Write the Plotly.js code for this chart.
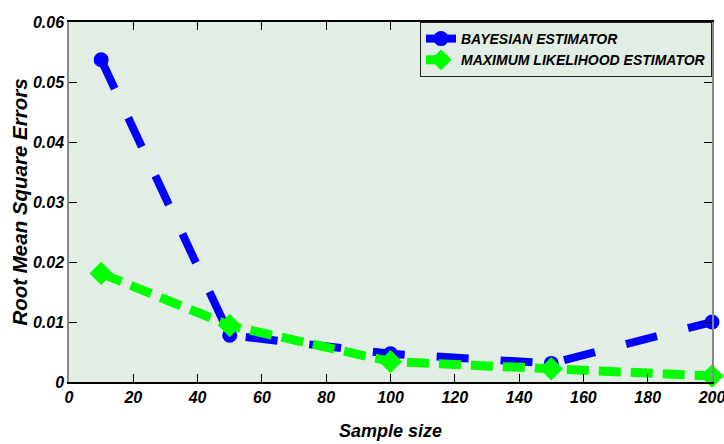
<!DOCTYPE html>
<html><head><meta charset="utf-8">
<script src="https://cdn.plot.ly/plotly-3.0.1.min.js"></script>
<style>html,body{margin:0;padding:0;background:#fff}</style>
</head><body>
<div id="chart" style="width:724px;height:444px"></div>
<script>
const sampleSizes = [10, 50, 100, 150, 200];
const bayesRMSE = [0.0537, 0.0078, 0.0047, 0.0031, 0.0100];
const mleRMSE = [0.0181, 0.0094, 0.0034, 0.0022, 0.0010];
const yTickVals = [0, 0.01, 0.02, 0.03, 0.04, 0.05, 0.06];
const yTickText = ['0', '0.01', '0.02', '0.03', '0.04', '0.05', '0.06'];
const xTickVals = [0, 20, 40, 60, 80, 100, 120, 140, 160, 180, 200];

const fontBI = {family: 'Liberation Sans, Arial, sans-serif', weight: 'bold', style: 'italic', color: '#000'};

const traces = [
  {x: sampleSizes, y: bayesRMSE, name: 'BAYESIAN ESTIMATOR', mode: 'lines+markers', cliponaxis: false,
   line: {color: '#0000ff', width: 8, dash: '32px,32px'},
   marker: {symbol: 'circle', size: 15, color: '#0000ff'}},
  {x: sampleSizes, y: mleRMSE, name: 'MAXIMUM LIKELIHOOD ESTIMATOR', mode: 'lines+markers', cliponaxis: false,
   line: {color: '#00ff00', width: 9, dash: '22px,10px'},
   marker: {symbol: 'diamond', size: 18, color: '#00ff00'}}
];

const layout = {
  width: 724, height: 444,
  margin: {l: 69, r: 12, t: 22, b: 62},
  paper_bgcolor: '#ffffff', plot_bgcolor: '#e2ede4',
  showlegend: true,
  legend: {x: 1, y: 1, xanchor: 'right', yanchor: 'top', bgcolor: '#e2ede4',
           bordercolor: '#222', borderwidth: 1,
           font: Object.assign({}, fontBI, {size: 14}), tracegroupgap: 0, itemwidth: 30},
  xaxis: {range: [0, 200], tickvals: xTickVals, ticks: 'inside', ticklen: 8, tickcolor: '#000',
          ticklabeloverflow: 'allow',
          showgrid: false, zeroline: false, showline: true, linecolor: '#000', linewidth: 1.5, mirror: 'ticks',
          tickfont: Object.assign({}, fontBI, {size: 16}),
          title: {text: 'Sample size', font: Object.assign({}, fontBI, {size: 18}), standoff: 19}},
  yaxis: {range: [0, 0.06], tickvals: yTickVals, ticktext: yTickText, ticks: 'inside', ticklen: 8, tickcolor: '#000',
          showgrid: false, zeroline: false, showline: true, linecolor: '#888', linewidth: 1.5, mirror: 'ticks',
          tickfont: Object.assign({}, fontBI, {size: 16}),
          title: {text: 'Root Mean Square Errors', font: Object.assign({}, fontBI, {size: 20.5}), standoff: 0}}
};
Plotly.newPlot('chart', traces, layout, {displayModeBar: false});
</script>
</body></html>
